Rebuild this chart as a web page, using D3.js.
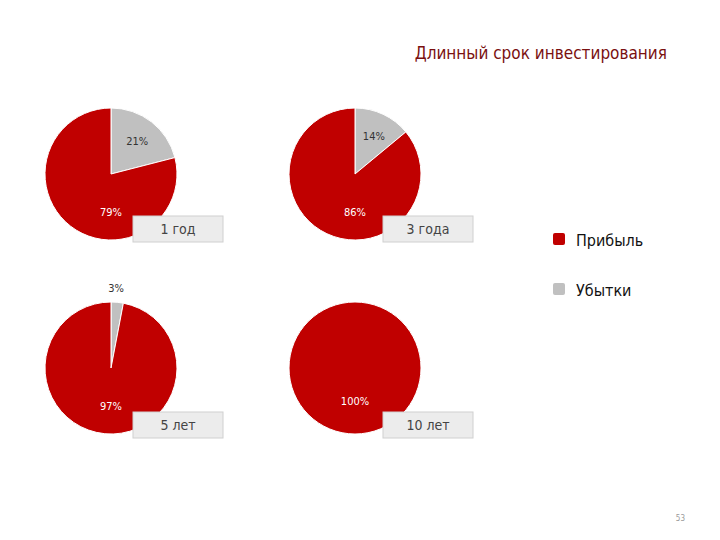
<!DOCTYPE html>
<html><head><meta charset="utf-8">
<script src="https://cdn.jsdelivr.net/npm/d3@7"></script>
<style>body{margin:0;background:#fff}text{font-family:"DejaVu Sans Condensed","DejaVu Sans",sans-serif}</style>
</head><body><svg id="c" width="720" height="540"></svg>
<script>
const periods = ["1 год", "3 года", "5 лет", "10 лет"];
const profit = [79, 86, 97, 100];
const loss = [21, 14, 3, 0];
const seriesNames = ["Прибыль", "Убытки"];
const colors = ["#c00000", "#c0c0c0"];

const svg = d3.select("#c");
const cx = [111, 355], cy = [174, 368], r = 66;

svg.append("text").attr("x", 667).attr("y", 59).attr("text-anchor", "end")
  .attr("font-size", 17).attr("fill", "#7a1010").text("Длинный срок инвестирования");

const pie = d3.pie().sort(null).value(d => d.v);
const arc = d3.arc().innerRadius(0).outerRadius(r);

periods.forEach((p, i) => {
  const g = svg.append("g").attr("transform", `translate(${cx[i % 2]},${cy[Math.floor(i / 2)]})`);
  // loss slice first, starting at 12 o'clock
  const data = [{k: 1, v: loss[i]}, {k: 0, v: profit[i]}];
  const arcs = pie(data);
  g.selectAll("path").data(arcs.filter(a => a.data.v > 0)).join("path")
    .attr("d", arc).attr("fill", d => colors[d.data.k])
    .attr("stroke", "#fff").attr("stroke-width", 1);
  arcs.forEach(a => {
    if (a.data.v <= 0) return;
    let x, y;
    if (a.data.k === 0) { x = 0; y = loss[i] === 0 ? 33 : 38; }
    else if (a.data.v < 5) { const c = d3.arc().innerRadius(r + 8).outerRadius(r + 8).centroid(a); x = c[0] - 2; y = c[1] - 6; }
    else { const c = d3.arc().innerRadius(r * 0.6).outerRadius(r * 0.6).centroid(a); x = c[0] + 2; y = c[1] - 2; }
    g.append("text").attr("x", x).attr("y", y + 4).attr("text-anchor", "middle")
      .attr("font-size", 11).attr("fill", a.data.k === 0 ? "#fff" : "#333").text(a.data.v + "%");
  });
  // name box
  const bx = i % 2 ? 383 : 133, by = i < 2 ? 216 : 412;
  svg.append("rect").attr("x", bx).attr("y", by).attr("width", 90).attr("height", 26)
    .attr("fill", "#ececec").attr("stroke", "#d0d0d0");
  svg.append("text").attr("x", bx + 45).attr("y", by + 18).attr("text-anchor", "middle")
    .attr("font-size", 14).attr("fill", "#444").text(p);
});

seriesNames.forEach((s, i) => {
  const y = 240 + i * 50;
  svg.append("rect").attr("x", 553).attr("y", y - 7).attr("width", 12).attr("height", 12)
    .attr("rx", 2).attr("fill", colors[i]);
  svg.append("text").attr("x", 576).attr("y", y + 6).attr("font-size", 16).attr("fill", "#111").text(s);
});

svg.append("text").attr("x", 685).attr("y", 521).attr("text-anchor", "end")
  .attr("font-size", 8).attr("fill", "#999").text("53");
</script></body></html>
